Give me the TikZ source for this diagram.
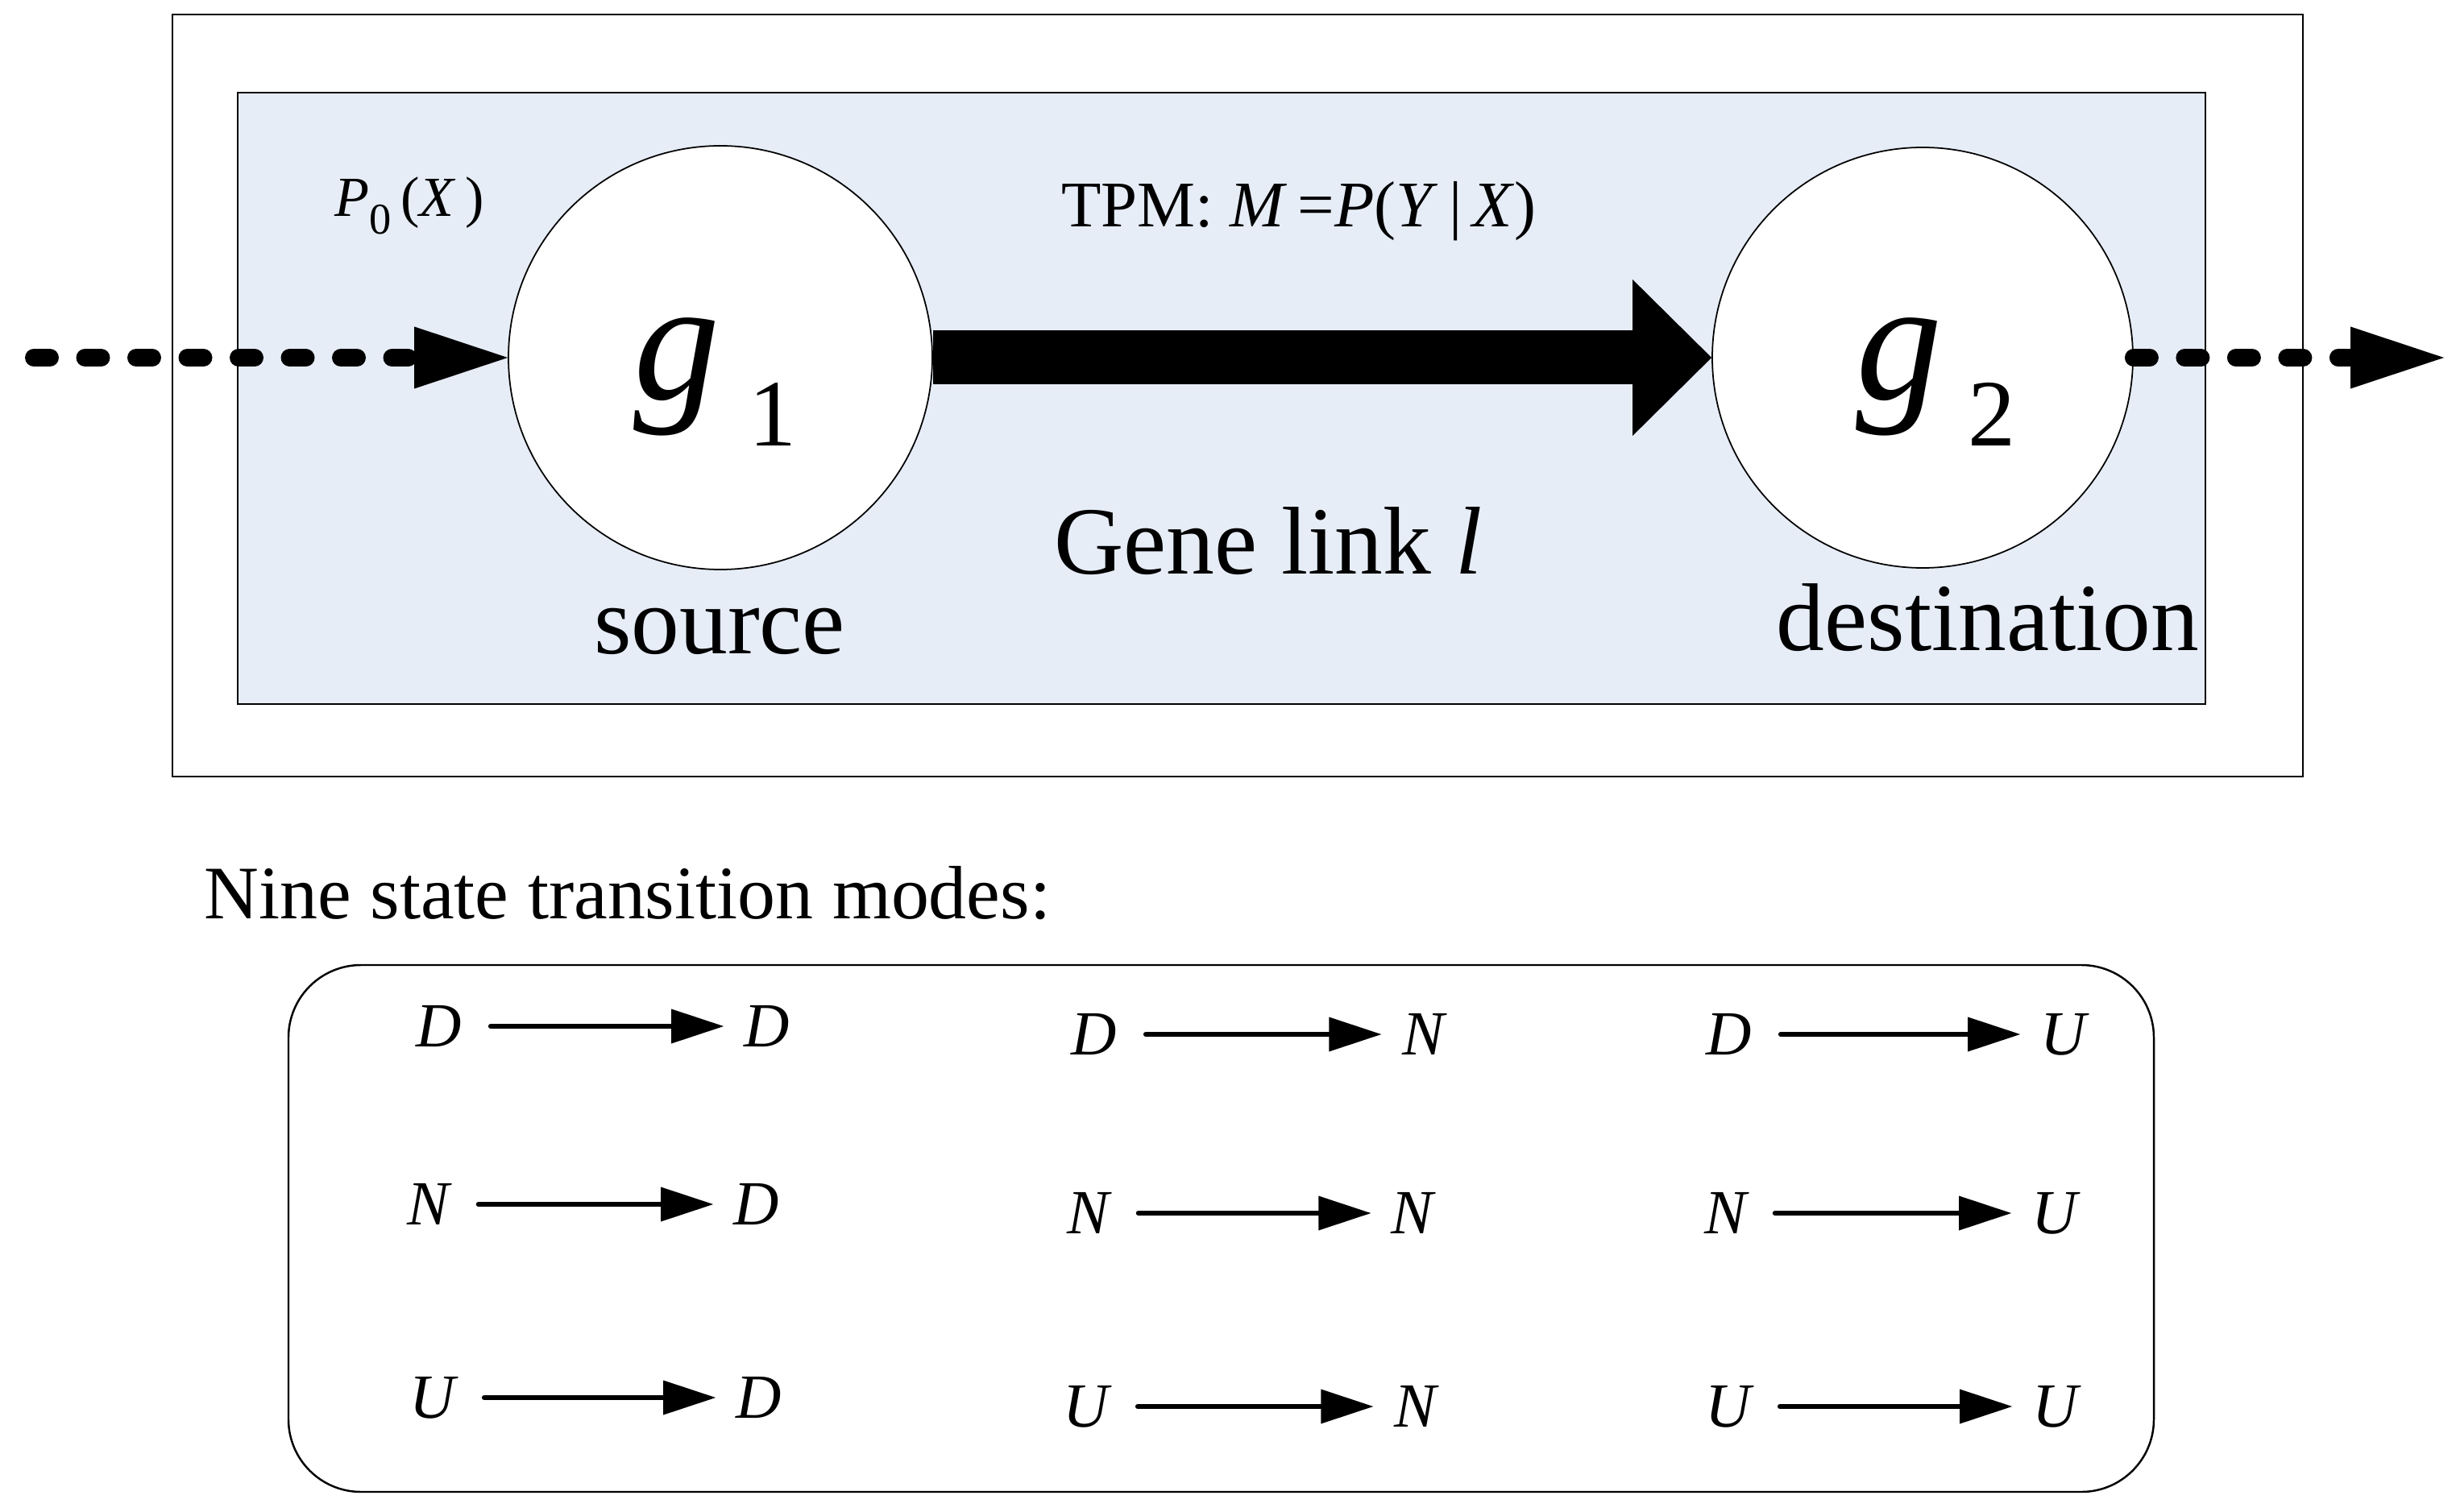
\documentclass[tikz,border=0pt]{standalone}
\usepackage{fontspec}
\setmainfont{Liberation Serif}
\usetikzlibrary{arrows.meta,positioning}
\definecolor{Panel}{HTML}{E6EDF7}

\begin{document}
\begin{tikzpicture}[
  x=1cm,y=1cm,
  frame/.style={draw=black,line width=.6pt},
  panel/.style={draw=black,fill=Panel,line width=.6pt},
  gene/.style={circle,draw=black,fill=white,line width=.5pt,
    minimum size=5.26cm,inner sep=0pt},
  genetext/.style={anchor=base west,inner sep=0pt},
  bigtext/.style={anchor=base,inner sep=0pt,font=\fontsize{34pt}{40pt}\selectfont},
  smalltext/.style={anchor=base,inner sep=0pt,font=\fontsize{23pt}{28pt}\selectfont},
  dasharrow/.style={-{Triangle[length=11.6mm,width=7.7mm,line width=0pt]},
    line width=2.2mm,line cap=round,dash pattern=on 2mm off 4.35mm},
  linkarrow/.style={-{Triangle[length=9.8mm,width=19.4mm,line width=0pt]},
    line width=6.7mm},
  modesframe/.style={draw=black,line width=.7pt,rounded corners=.9cm},
  state/.style={inner sep=0pt,font=\fontsize{22.2pt}{26pt}\selectfont\itshape},
  mode/.style={-{Triangle[length=6.5mm,width=4.3mm,line width=0pt]},
    line width=1.7pt,line cap=round,shorten <=.35cm,shorten >=.25cm}
]
\useasboundingbox (0,0) rectangle (30.48,-18.77);
% upper part: the gene link between the two genes
\draw[frame] (2.14,-0.18) rectangle (28.58,-9.64);
\draw[panel] (2.95,-1.15) rectangle (27.37,-8.74);
\node[gene] (g1) at (8.94,-4.44) {};
\node[gene,minimum size=5.22cm] (g2) at (23.86,-4.44) {};
\node[genetext] (g1txt) at (7.86,-4.96) {{\fontsize{61pt}{70pt}\selectfont\itshape g}\hspace{10pt}%
  \raisebox{-16.5pt}{\fontsize{33.6pt}{40pt}\selectfont 1}};
\node[genetext] (g2txt) at (23.03,-4.96) {{\fontsize{61pt}{70pt}\selectfont\itshape g}\hspace{9pt}%
  \raisebox{-16.5pt}{\fontsize{33.6pt}{40pt}\selectfont 2}};
\coordinate (in) at (0.42,-4.44);
\coordinate (out) at (30.33,-4.44);
\draw[dasharrow] (in) -- (g1.west);
\draw[dasharrow] (g2.east) -- (out);
\draw[linkarrow] (g1.east) -- (g2.west);
\node[anchor=base,inner sep=0pt,font=\fontsize{20pt}{24pt}\selectfont] (prior) at (5.08,-2.69)
  {\textit{P}\raisebox{-6pt}{\fontsize{15.5pt}{18pt}\selectfont 0}\,(\textit{X}\,)};
\node[smalltext] (tpm) at (16.12,-2.82)
  {TPM: \textit{M}\,=\textit{P}(\textit{Y}\,|\,\textit{X})};
\node[bigtext] (link) at (15.74,-7.13) {Gene link \textit{l}};
\node[bigtext] (src) at (8.93,-8.11) {source};
\node[bigtext] (dst) at (24.67,-8.08) {destination};
% lower part: the nine modes
\node[anchor=base west,inner sep=0pt,font=\fontsize{26.7pt}{32pt}\selectfont] (modestitle)
  at (2.53,-11.40) {Nine state transition modes:};
\draw[modesframe] (3.58,-11.98) rectangle (26.73,-18.52);
\node[state] (fromDD) at (5.45,-12.74) {D};
\node[state] (toDD) at (9.52,-12.74) {D};
\node[state] (fromND) at (5.32,-14.95) {N};
\node[state] (toND) at (9.39,-14.95) {D};
\node[state] (fromUD) at (5.37,-17.35) {U};
\node[state] (toUD) at (9.42,-17.35) {D};
\node[state] (fromDN) at (13.58,-12.84) {D};
\node[state] (toDN) at (17.66,-12.84) {N};
\node[state] (fromNN) at (13.51,-15.06) {N};
\node[state] (toNN) at (17.53,-15.06) {N};
\node[state] (fromUN) at (13.48,-17.46) {U};
\node[state] (toUN) at (17.56,-17.46) {N};
\node[state] (fromDU) at (21.46,-12.84) {D};
\node[state] (toDU) at (25.61,-12.84) {U};
\node[state] (fromNU) at (21.41,-15.06) {N};
\node[state] (toNU) at (25.50,-15.06) {U};
\node[state] (fromUU) at (21.45,-17.46) {U};
\node[state] (toUU) at (25.51,-17.46) {U};
\draw[mode] (fromDD) -- (toDD);
\draw[mode] (fromND) -- (toND);
\draw[mode] (fromUD) -- (toUD);
\draw[mode] (fromDN) -- (toDN);
\draw[mode] (fromNN) -- (toNN);
\draw[mode] (fromUN) -- (toUN);
\draw[mode] (fromDU) -- (toDU);
\draw[mode] (fromNU) -- (toNU);
\draw[mode] (fromUU) -- (toUU);
\end{tikzpicture}
\end{document}
